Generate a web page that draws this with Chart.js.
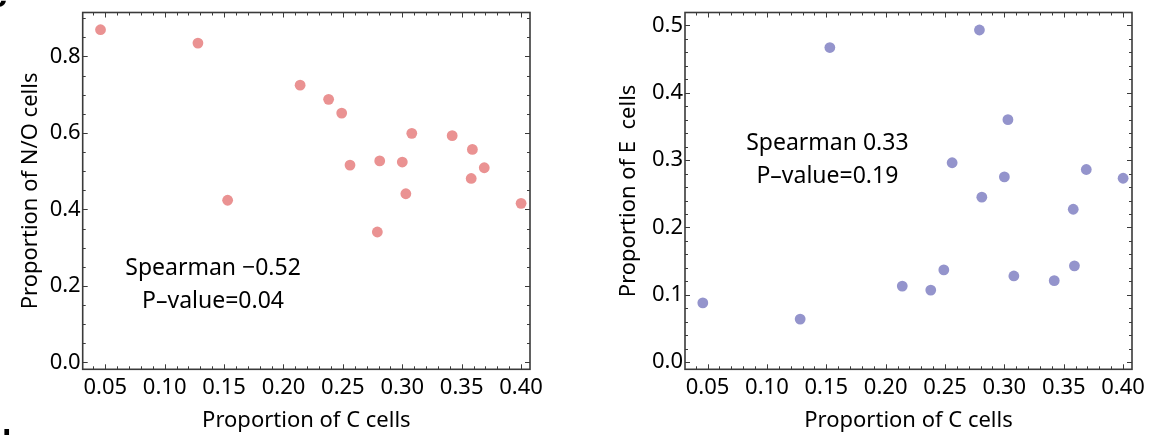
<!DOCTYPE html>
<html>
<head>
<meta charset="utf-8">
<script src="https://cdn.jsdelivr.net/npm/chart.js@4.4.0/dist/chart.umd.min.js"></script>
<style>
  html, body { margin: 0; padding: 0; background: #fff; }
  #wrap { position: relative; width: 1155px; height: 435px; overflow: hidden; }
  .panel { position: absolute; top: 0; height: 435px; }
  #left { left: 0; width: 578px; }
  #right { left: 578px; width: 577px; }
  .tag { position: absolute; font: bold 34px "Liberation Sans"; color: #000; line-height: 34px; }
</style>
</head>
<body>
<div id="wrap">
  <div class="panel" id="left"><canvas id="chartNO"></canvas></div>
  <div class="panel" id="right"><canvas id="chartE"></canvas></div>
  <span class="tag" style="left:-12px; top:-22px;">c</span>
  <span class="tag" style="left:2px; top:424px;">l</span>
</div>
<script>
// values
var cellsC  = [0.046, 0.128, 0.153, 0.214, 0.238, 0.249, 0.256, 0.279, 0.281, 0.300, 0.303, 0.308, 0.342, 0.358, 0.359, 0.369, 0.400];
var cellsNO = [0.870, 0.835, 0.424, 0.725, 0.688, 0.652, 0.516, 0.341, 0.527, 0.524, 0.441, 0.599, 0.593, 0.481, 0.557, 0.509, 0.416];
var cellsE  = [0.088, 0.064, 0.467, 0.113, 0.107, 0.137, 0.296, 0.493, 0.245, 0.275, 0.360, 0.128, 0.121, 0.227, 0.143, 0.286, 0.273];

// tick labels
var xLabels   = ['0.05', '0.10', '0.15', '0.20', '0.25', '0.30', '0.35', '0.40'];
var noLabels  = ['0.0', '0.2', '0.4', '0.6', '0.8'];
var eLabels   = ['0.0', '0.1', '0.2', '0.3', '0.4', '0.5'];

Chart.defaults.font.family = '"Noto Sans", sans-serif';
Chart.defaults.color = '#000';

function tickList(from, to, step) {
    var out = [];
    for (var i = 0; from + i * step <= to + 1e-9; i++) {
        out.push({ value: Math.round((from + i * step) * 10000) / 10000 });
    }
    return out;
}

function labelFor(value, labels) {
    for (var i = 0; i < labels.length; i++) {
        if (Math.abs(parseFloat(labels[i]) - value) < 1e-6) return labels[i];
    }
    return '';
}

// inward frame ticks on all four sides, the frame itself and the text note
var frameTicks = {
    id: 'frameTicks',
    afterDraw: function(chart, args, opts) {
        var ctx = chart.ctx, a = chart.chartArea;
        var sx = chart.scales.x, sy = chart.scales.y;
        ctx.save();
        ctx.strokeStyle = '#3a3a3a';
        ctx.lineWidth = 1;
        ctx.beginPath();
        sx.ticks.forEach(function(t) {
            var px = Math.round(sx.getPixelForValue(t.value)) + 0.5;
            var len = labelFor(t.value, opts.xLabels) ? 5 : 3;
            ctx.moveTo(px, a.bottom); ctx.lineTo(px, a.bottom - len);
            ctx.moveTo(px, a.top); ctx.lineTo(px, a.top + len);
        });
        sy.ticks.forEach(function(t) {
            var py = Math.round(sy.getPixelForValue(t.value)) + 0.5;
            var len = labelFor(t.value, opts.yLabels) ? 5 : 3;
            ctx.moveTo(a.left, py); ctx.lineTo(a.left + len, py);
            ctx.moveTo(a.right, py); ctx.lineTo(a.right - len, py);
        });
        ctx.stroke();
        ctx.lineWidth = 1.6;
        ctx.strokeRect(a.left, a.top, a.right - a.left, a.bottom - a.top);

        ctx.fillStyle = '#000';
        ctx.font = '23px "Noto Sans"';
        ctx.textAlign = 'center';
        ctx.textBaseline = 'middle';
        var cx = sx.getPixelForValue(opts.note.x);
        var cy = sy.getPixelForValue(opts.note.y);
        ctx.fillText(opts.note.lines[0], cx, cy - 16.5);
        ctx.fillText(opts.note.lines[1], cx, cy + 16.5);
        ctx.restore();
    }
};

function makeChart(id, yValues, color, opt) {
    var points = cellsC.map(function(x, i) { return { x: x, y: yValues[i] }; });
    return new Chart(document.getElementById(id), {
        type: 'scatter',
        data: {
            datasets: [{
                data: points,
                backgroundColor: color,
                borderWidth: 0,
                pointRadius: 5.4,
                pointHoverRadius: 5.4
            }]
        },
        options: {
            responsive: true,
            maintainAspectRatio: false,
            animation: false,
            layout: { padding: { left: 0, top: 12.5, right: opt.padRight, bottom: 0 } },
            plugins: {
                legend: { display: false },
                tooltip: { enabled: false },
                frameTicks: { xLabels: xLabels, yLabels: opt.yLabels, note: opt.note }
            },
            scales: {
                x: {
                    type: 'linear',
                    min: 0.031,
                    max: 0.4075,
                    grid: { display: false, drawTicks: false },
                    border: { display: false },
                    afterBuildTicks: function(scale) { scale.ticks = tickList(0.04, 0.40, 0.01); },
                    afterFit: function(scale) {
                        scale.height = 65.7;
                        scale.paddingLeft = 0; scale.paddingRight = 0;
                    },
                    ticks: {
                        autoSkip: false,
                        maxRotation: 0,
                        padding: 5,
                        font: { size: 22 },
                        callback: function(v) { return labelFor(v, xLabels); }
                    },
                    title: {
                        display: true,
                        text: 'Proportion of C cells',
                        font: { size: 22 },
                        padding: { top: 0, bottom: 1 }
                    }
                },
                y: {
                    type: 'linear',
                    min: opt.yMin,
                    max: opt.yMax,
                    grid: { display: false, drawTicks: false },
                    border: { display: false },
                    afterBuildTicks: function(scale) { scale.ticks = tickList(0, opt.yTop, opt.yStep); },
                    afterFit: function(scale) {
                        scale.width = opt.yWidth;
                        scale.paddingTop = 0; scale.paddingBottom = 0;
                    },
                    ticks: {
                        autoSkip: false,
                        padding: 2,
                        font: { size: 22 },
                        callback: function(v) { return labelFor(v, opt.yLabels); }
                    },
                    title: {
                        display: true,
                        text: opt.yTitle,
                        font: { size: 22 },
                        padding: { top: opt.titlePad, bottom: 0 }
                    }
                }
            }
        },
        plugins: [frameTicks]
    });
}

makeChart('chartNO', cellsNO, '#EA9292', {
    yMin: -0.018, yMax: 0.915, yTop: 0.9, yStep: 0.05,
    yLabels: noLabels, yTitle: 'Proportion of N/O cells',
    yWidth: 82.7, padRight: 48, titlePad: 18,
    note: { x: 0.1407, y: 0.2024, lines: ['Spearman \u22120.52', 'P\u2013value=0.04'] }
});

makeChart('chartE', cellsE, '#9494CC', {
    yMin: -0.0105, yMax: 0.519, yTop: 0.5, yStep: 0.02,
    yLabels: eLabels, yTitle: 'Proportion of E  cells',
    yWidth: 107, padRight: 23, titlePad: 38,
    note: { x: 0.1509, y: 0.3006, lines: ['Spearman 0.33', 'P\u2013value=0.19'] }
});
</script>
</body>
</html>
